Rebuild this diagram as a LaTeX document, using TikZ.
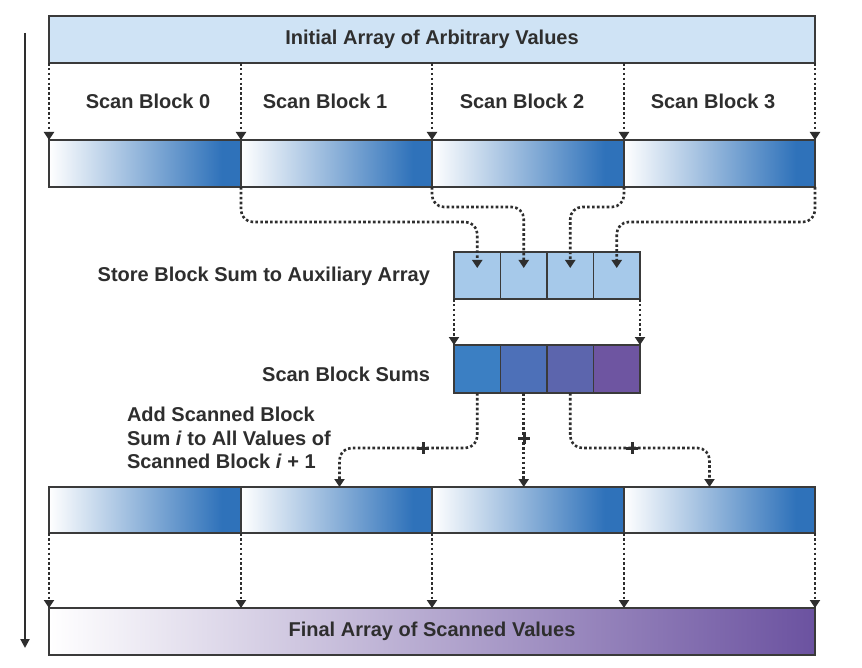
\documentclass[tikz,border=0pt]{standalone}
\usepackage{fontspec}
\setmainfont{Liberation Sans}
\usetikzlibrary{arrows.meta,calc}
\definecolor{ink}{HTML}{2E2E2E}
\definecolor{edge}{HTML}{3A3A3A}
\definecolor{initfill}{HTML}{CFE3F5}
\definecolor{auxfill}{HTML}{A6C9EA}
\definecolor{blkblue}{HTML}{2F72BA}
\definecolor{sumA}{HTML}{3B7FC3}
\definecolor{sumB}{HTML}{4D70B8}
\definecolor{sumC}{HTML}{5C65AD}
\definecolor{sumD}{HTML}{6E55A1}
\definecolor{finpurple}{HTML}{6B52A0}
\pgfdeclarehorizontalshading{blkshade}{100bp}{color(0bp)=(white); color(25bp)=(white); color(70bp)=(blkblue); color(100bp)=(blkblue)}
\begin{document}
\begin{tikzpicture}[x=1pt,y=-1pt,
  every node/.style={inner sep=0pt, outer sep=0pt, text=ink, font=\fontsize{20}{23.5}\selectfont\bfseries},
  box/.style={draw=edge, line width=1.5pt, rectangle, anchor=north west},
  blk/.style={box, minimum height=47pt, shading=blkshade},
  cell/.style={box, minimum width=46.5pt},
  conn/.style={draw=ink, line width=2.6pt, dash pattern=on 2.6pt off 2.3pt, -{Triangle[width=10pt,length=8pt]}, rounded corners=12pt},
  plus/.style={minimum size=12pt, path picture={\draw[ink, line width=3pt] (path picture bounding box.north) -- (path picture bounding box.south) (path picture bounding box.west) -- (path picture bounding box.east);}}
]
\useasboundingbox[fill=white] (0,0) rectangle (862,668);

% time line
\coordinate (tlA) at (25,33);
\coordinate (tlB) at (25,648);
\draw[line width=2pt, draw=ink, -{Triangle[width=9pt,length=9pt]}] (tlA) -- (tlB);

% initial array
\node[box, fill=initfill, minimum width=766pt, minimum height=47pt] (init) at (49,16) {Initial Array of Arbitrary Values};

% scan block labels
\node (l0) at (148,101) {Scan Block 0};
\node (l1) at (325,101) {Scan Block 1};
\node (l2) at (522,101) {Scan Block 2};
\node (l3) at (713,101) {Scan Block 3};

% first array of scanned blocks
\foreach \i/\xa/\w in {0/49/192,1/241/191,2/432/192,3/624/191}
  \node[blk, minimum width=\w] (a\i) at (\xa,140) {};

% second array
\foreach \i/\xa/\w in {0/49/192,1/241/191,2/432/192,3/624/191}
  \node[blk, minimum width=\w, minimum height=46pt] (b\i) at (\xa,487) {};

% final array
\node[box, left color=white, right color=finpurple, minimum width=766pt, minimum height=47pt] (final) at (49,608) {Final Array of Scanned Values};

% auxiliary array
\node[cell, fill=auxfill, minimum height=47pt] (aux0) at (454,252) {};
\node[cell, fill=auxfill, minimum height=47pt] (aux1) at (500.5,252) {};
\node[cell, fill=auxfill, minimum height=47pt] (aux2) at (547,252) {};
\node[cell, fill=auxfill, minimum height=47pt] (aux3) at (593.5,252) {};

% scanned block sums
\node[cell, fill=sumA, minimum height=48pt] (sum0) at (454,345) {};
\node[cell, fill=sumB, minimum height=48pt] (sum1) at (500.5,345) {};
\node[cell, fill=sumC, minimum height=48pt] (sum2) at (547,345) {};
\node[cell, fill=sumD, minimum height=48pt] (sum3) at (593.5,345) {};

% labels
\node[anchor=east] (storelbl) at (430,276) {Store Block Sum to Auxiliary Array};
\node[anchor=east] (sumlbl) at (430,374) {Scan Block Sums};
\node[align=left, anchor=west] (addlbl) at (127,438) {Add Scanned Block\\Sum \textit{i} to All Values of\\Scanned Block \textit{i} + 1};

% connectors: initial -> first array
\foreach \i in {0,1,2,3}
  \draw[conn] (a\i.north west |- init.south) -- (a\i.north west);
\draw[conn] (a3.north east |- init.south) -- (a3.north east);

% connectors: first array -> auxiliary
\coordinate (ya) at (0,222);
\coordinate (yb) at (0,207);
\coordinate (t0) at ($(aux0.center)+(0,-7.5)$);
\coordinate (t1) at ($(aux1.center)+(0,-7.5)$);
\coordinate (t2) at ($(aux2.center)+(0,-7.5)$);
\coordinate (t3) at ($(aux3.center)+(0,-7.5)$);
\draw[conn] (a1.south west) |- (t0 |- ya) -- (t0);
\draw[conn] (a2.south west) |- (t1 |- yb) -- (t1);
\draw[conn] (a3.south west) |- (t2 |- yb) -- (t2);
\draw[conn] (a3.south east) |- (t3 |- ya) -- (t3);

% auxiliary -> sums
\draw[conn] (aux0.south west) -- (sum0.north west);
\draw[conn] (aux3.south east) -- (sum3.north east);

% sums -> second array
\coordinate (yc) at (0,448);
\coordinate (e1) at ($(b1.north)+(3,0)$);
\coordinate (e3) at ($(b3.north)+(-10,0)$);
\draw[conn] (sum0.south) |- (e1 |- yc) -- (e1);
\draw[conn] (sum1.south) -- (sum1.south |- b2.north);
\draw[conn] (sum2.south) |- (e3 |- yc) -- (e3);
\node[plus] (p0) at (423,448) {};
\node[plus] (p1) at (524,438) {};
\node[plus] (p2) at (632,448) {};

% second array -> final
\foreach \i in {0,1,2,3}
  \draw[conn] (b\i.south west) -- (b\i.south west |- final.north);
\draw[conn] (b3.south east) -- (b3.south east |- final.north);
\end{tikzpicture}
\end{document}
